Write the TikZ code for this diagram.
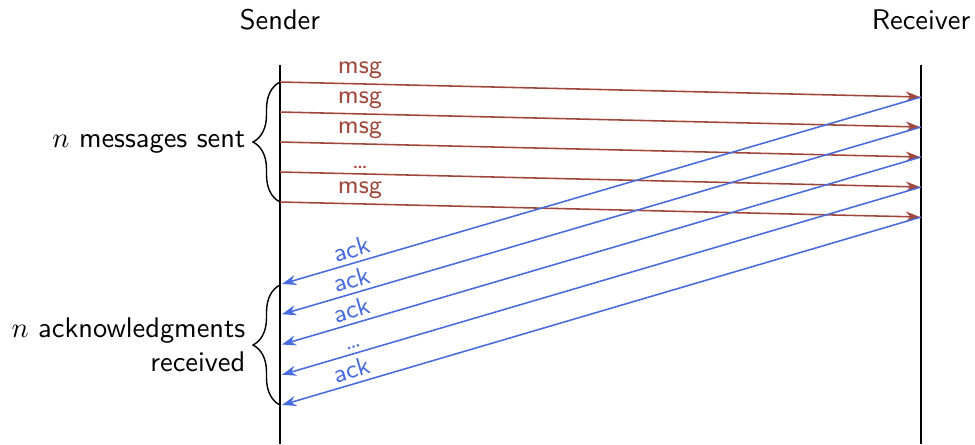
\documentclass[tikz,border=0pt]{standalone}
\usepackage{fontspec}
\usetikzlibrary{arrows.meta,decorations.pathreplacing}
\definecolor{msgred}{RGB}{160,70,58}
\definecolor{ackblue}{RGB}{72,108,222}
\begin{document}
\begin{tikzpicture}[x=0.352pt,y=-0.352pt,font=\sffamily,
  lifeline/.style={line width=1pt},
  msgarrow/.style={msgred,line width=0.55pt,-{Stealth[length=5pt,width=3.6pt]}},
  ackarrow/.style={ackblue,line width=0.55pt,-{Stealth[length=5pt,width=3.6pt]}},
  msglabel/.style={font=\sffamily\small,text=msgred,above,pos=0.125,inner sep=1.5pt},
  acklabel/.style={font=\sffamily\small,text=ackblue,above,sloped,pos=0.885,inner sep=1.5pt},
  bracedeco/.style={decorate,decoration={brace,mirror,amplitude=9.5pt},line width=0.5pt}]
\useasboundingbox (0,0) rectangle (975,444);

% process names
\node (sender) at (280,20) {Sender};
\node (receiver) at (921,20) {Receiver};

% lifelines
\coordinate (stop) at (280,65);
\coordinate (sbot) at (280,444);
\coordinate (rtop) at (921,65);
\coordinate (rbot) at (921,444);
\draw[lifeline] (stop) -- (sbot);
\draw[lifeline] (rtop) -- (rbot);

% send/receive points
\foreach \i in {1,...,5}{
  \coordinate (s\i) at (280,{82+30*(\i-1)});
  \coordinate (r\i) at (920,{97+30*(\i-1)});
  \coordinate (q\i) at (921,{97+30*(\i-1)});
  \coordinate (a\i) at (282,{284+30.25*(\i-1)});
}

% messages
\foreach \i/\t in {1/msg,2/msg,3/msg,4/\ldots,5/msg}{
  \draw[msgarrow] (s\i) -- node[msglabel] (ml\i) {\t} (r\i);
}

% acknowledgments
\foreach \i/\t in {1/ack,2/ack,3/ack,4/\ldots,5/ack}{
  \draw[ackarrow] (q\i) -- node[acklabel] (al\i) {\t} (a\i);
}

% braces
\coordinate (b1) at (280,82);
\coordinate (b2) at (280,202);
\coordinate (c1) at (280,285);
\coordinate (c2) at (280,405);
\draw[bracedeco] (b1) -- node[left=11pt,inner sep=1pt] (sent) {$n$ messages sent} (b2);
\draw[bracedeco] (c1) -- node[left=11pt,inner sep=1pt,align=right] (recv) {$n$ acknowledgments\\received} (c2);
\end{tikzpicture}
\end{document}
